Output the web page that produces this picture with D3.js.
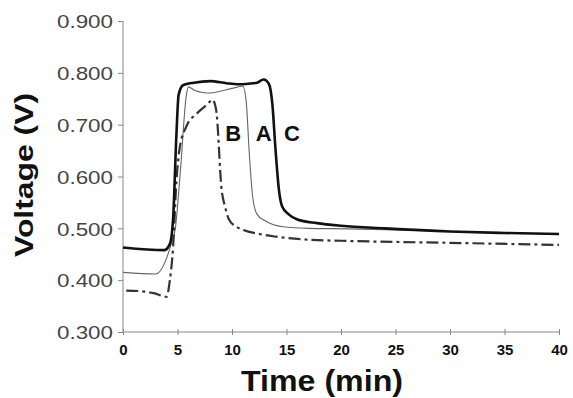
<!DOCTYPE html>
<html><head><meta charset="utf-8">
<script src="https://cdn.jsdelivr.net/npm/d3@7"></script>
<style>body{margin:0;background:#fff}svg{display:block}</style>
</head><body>
<svg id="chart" width="573" height="398"></svg>
<script>
const xTicks = [0,5,10,15,20,25,30,35,40];
const yTicks = [0.3,0.4,0.5,0.6,0.7,0.8,0.9];
const seriesNames = ["C","A","B"];
const timeC = [0,3.8,4.3,4.6,4.9,5.1,5.5,6.5,8,9.5,10.5,11.5,12.3,12.9,13.4,13.7,14.0,14.3,14.6,15.2,16,17.8,20,24,30,35,40];
const voltC = [0.463,0.458,0.47,0.52,0.68,0.757,0.776,0.781,0.784,0.780,0.778,0.779,0.781,0.787,0.778,0.74,0.65,0.575,0.542,0.527,0.517,0.510,0.505,0.500,0.494,0.491,0.489];
const timeA = [0,3.0,4.4,4.8,5.3,5.8,6.0,6.5,7.3,8,9,10,11,11.3,11.6,11.9,12.3,13,14.7,17,20.8,25,30,35,40];
const voltA = [0.415,0.412,0.468,0.50,0.62,0.755,0.773,0.767,0.762,0.761,0.765,0.770,0.774,0.745,0.64,0.56,0.527,0.515,0.503,0.500,0.499,0.497,0.494,0.491,0.489];
const timeB = [0.3,2,2.8,4.0,4.3,4.6,4.9,5.2,5.8,6.8,7.5,8.0,8.2,8.55,9.05,9.36,9.7,10.4,11,12.5,14,17,20,30,40];
const voltB = [0.380,0.378,0.375,0.368,0.40,0.465,0.59,0.655,0.696,0.722,0.735,0.745,0.748,0.728,0.574,0.542,0.518,0.503,0.497,0.489,0.484,0.478,0.476,0.472,0.468];
const labelText = ["B","A","C"];
const labelTime = [10.1,12.9,15.5];
const labelVolt = [0.683,0.683,0.683];

const svg = d3.select("#chart");
const x = d3.scaleLinear().domain([0,40]).range([123,559]);
const y = d3.scaleLinear().domain([0.3,0.9]).range([332,21]);

// axes
const gx = svg.append("g").attr("transform","translate(0,332)")
  .call(d3.axisBottom(x).tickValues(xTicks).tickSize(3).tickSizeInner(3).tickPadding(10).tickFormat(d3.format("d")));
gx.select(".domain").attr("stroke","#888").attr("d","M123,0H559");
gx.selectAll(".tick line").attr("stroke","#888").attr("y1",-3).attr("y2",3);
gx.selectAll(".tick text").attr("font-family","Liberation Sans, Arial, sans-serif")
  .attr("font-size",15).attr("font-weight","bold").attr("fill","#111").attr("dy",0).attr("y",23);

const gy = svg.append("g").attr("transform","translate(123,0)")
  .call(d3.axisLeft(y).tickValues(yTicks).tickSize(5).tickPadding(5).tickFormat(d3.format(".3f")));
gy.select(".domain").attr("stroke","#888").attr("d","M0,21V332");
gy.selectAll(".tick line").attr("stroke","#888");
gy.selectAll(".tick text").attr("font-family","Liberation Sans, Arial, sans-serif")
  .attr("font-size",18.5).attr("fill","#444").attr("x",-10).attr("dy","0.36em")
  .attr("textLength",56).attr("lengthAdjust","spacingAndGlyphs");

// titles
svg.append("text").attr("x",322).attr("y",391).attr("text-anchor","middle")
  .attr("font-family","Liberation Sans, Arial, sans-serif").attr("font-weight","bold")
  .attr("font-size",29).attr("fill","#111").attr("textLength",162).attr("lengthAdjust","spacingAndGlyphs")
  .text("Time (min)");
svg.append("text").attr("transform","translate(33,175) rotate(-90)").attr("text-anchor","middle")
  .attr("font-family","Liberation Sans, Arial, sans-serif").attr("font-weight","bold")
  .attr("font-size",25).attr("fill","#111").attr("textLength",164).attr("lengthAdjust","spacingAndGlyphs")
  .text("Voltage (V)");

const line = d3.line().x(d=>x(d[0])).y(d=>y(d[1])).curve(d3.curveMonotoneX);
const zip = (t,v)=>t.map((d,i)=>[d,v[i]]);

svg.append("path").datum(zip(timeA,voltA)).attr("d",line)
  .attr("fill","none").attr("stroke","#666").attr("stroke-width",1.1);
svg.append("path").datum(zip(timeB,voltB)).attr("d",line)
  .attr("fill","none").attr("stroke","#333").attr("stroke-width",2.2).attr("stroke-dasharray","12,4,3,4");
svg.append("path").datum(zip(timeC,voltC)).attr("d",line)
  .attr("fill","none").attr("stroke","#111").attr("stroke-width",2.6);

svg.selectAll("text.lbl").data(labelText).enter().append("text").attr("class","lbl")
  .attr("x",(d,i)=>x(labelTime[i])).attr("y",(d,i)=>y(labelVolt[i])+8)
  .attr("text-anchor","middle").attr("font-family","Liberation Sans, Arial, sans-serif")
  .attr("font-weight","bold").attr("font-size",22).attr("fill","#111").text(d=>d);
</script>
</body></html>
